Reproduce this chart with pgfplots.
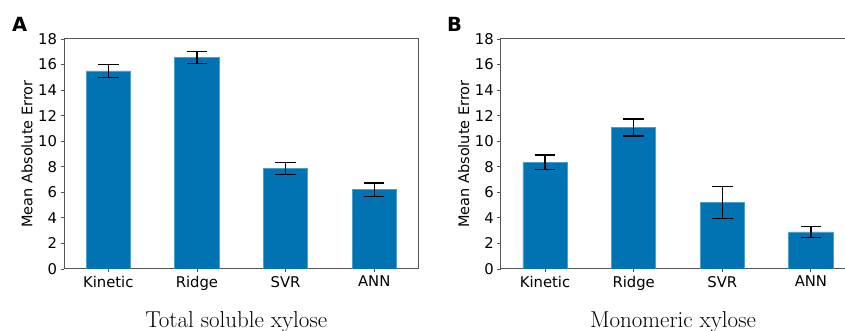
\documentclass[border=0pt]{standalone}
\usepackage{pgfplots}
\pgfplotsset{compat=1.18}
\usepackage{fontspec}
\setmainfont{Latin Modern Roman}
\newfontfamily\dejavu{DejaVu Sans}
\definecolor{barblue}{HTML}{0173B2}
\definecolor{spine}{HTML}{555555}
\pgfplotsset{
  mystyle/.style={
    scale only axis,
    width=354.5pt, height=230pt,
    anchor=south west,
    xmin=-0.5, xmax=3.5,
    ymin=0, ymax=18,
    ytick={0,2,...,18},
    xtick={0,1,2,3},
    xticklabels={Kinetic,Ridge,SVR,ANN},
    tick align=outside,
    major tick length=3.5pt,
    tick style={spine, line width=0.8pt},
    axis line style={spine, line width=1pt},
    every tick label/.append style={font=\dejavu\fontsize{14.8}{16}\selectfont, text=black},
    /pgf/number format/assume math mode=true,
    xtick pos=bottom, ytick pos=left,
    ylabel={\dejavu\fontsize{14.5}{16}\selectfont Mean Absolute Error},
    ylabel style={inner sep=2pt},
    xlabel style={font=\fontsize{23}{26}\selectfont},
    xlabel style={at={(axis description cs:0.5,0)}, anchor=base, yshift=-59pt, xshift=-5pt},
    ybar, bar width=44.3pt,
  },
  mybar/.style={fill=barblue, draw=barblue!70!white, line width=0.6pt,
    error bars/.cd, y dir=both, y explicit,
    error bar style={black, line width=1.3pt},
    error mark options={rotate=90, mark size=10.3pt, line width=1.3pt, black}},
}
\begin{document}
\begin{tikzpicture}
\begin{axis}[mystyle, at={(64pt,62pt)}, xlabel={Total soluble xylose}]
\addplot[mybar] coordinates {
  (0,15.50) +- (0,0.53)
  (1,16.55) +- (0,0.45)
  (2,7.87) +- (0,0.48)
  (3,6.20) +- (0,0.53)
};
\end{axis}
\begin{axis}[mystyle, at={(500.7pt,62pt)}, xlabel={Monomeric xylose}]
\addplot[mybar] coordinates {
  (0,8.35) +- (0,0.57)
  (1,11.08) +- (0,0.66)
  (2,5.21) +- (0,1.27)
  (3,2.91) +- (0,0.43)
};
\end{axis}
\node[font=\dejavu\bfseries\fontsize{19.5}{20}\selectfont, anchor=base west, inner sep=0pt] at (12pt,299.3pt) {A};
\node[font=\dejavu\bfseries\fontsize{19.5}{20}\selectfont, anchor=base west, inner sep=0pt] at (447pt,299.3pt) {B};
\pgfresetboundingbox
\useasboundingbox (0,0) rectangle (845pt,331pt);
\end{tikzpicture}
\end{document}
